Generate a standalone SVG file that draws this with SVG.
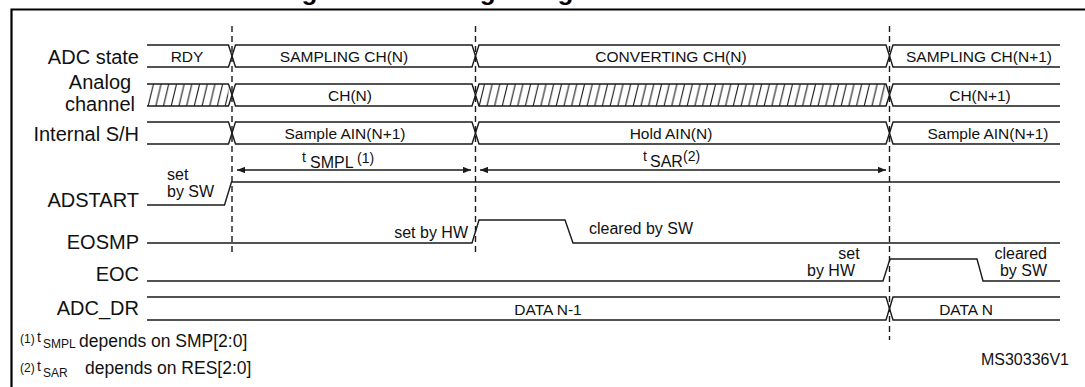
<svg xmlns="http://www.w3.org/2000/svg" width="1085" height="387" viewBox="0 0 1085 387">
<style>
.frame{fill:none;stroke:#000;stroke-width:2.2}
.sig{fill:none;stroke:#1a1a1a;stroke-width:1.4}
.dash{fill:none;stroke:#1a1a1a;stroke-width:1.4;stroke-dasharray:6 4}
.hatch{stroke:#1a1a1a;stroke-width:1.1}
text{font-family:"Liberation Sans",Arial,sans-serif;fill:#111}
.title{font-size:26px;font-weight:bold;text-anchor:middle;fill:#000}
.lbl{font-size:20px;text-anchor:end}
.lblc{font-size:20px;text-anchor:middle}
.bus{font-size:15.5px;text-anchor:middle}
.ann{font-size:16px}
.fn{font-size:17.5px}
.sm{font-size:12px}
</style>
<defs>
<pattern id="hp" patternUnits="userSpaceOnUse" x="147" y="84" width="7.7" height="22">
<line class="hatch" x1="1" y1="22.5" x2="6.5" y2="-0.5"/>
</pattern>
<marker id="ah" viewBox="0 0 10 8" refX="10" refY="4" markerWidth="8" markerHeight="6.4" markerUnits="userSpaceOnUse" orient="auto-start-reverse">
<path d="M0,0 L10,4 L0,8 z" fill="#1a1a1a"/>
</marker>
</defs>
<text class="title" x="548" y="-0.5">Figure 85. Analog to digital conversion time</text>
<path class="frame" d="M11.5,387 V9.5 H1085"/>

<g id="connectors">
<line class="dash" x1="232" y1="26" x2="232" y2="255"/>
<line class="dash" x1="475.5" y1="26" x2="475.5" y2="255"/>
<line class="dash" x1="889.5" y1="26" x2="889.5" y2="340"/>
<line class="sig" x1="237" y1="170" x2="471" y2="170" marker-start="url(#ah)" marker-end="url(#ah)"/>
<line class="sig" x1="480" y1="170" x2="886" y2="170" marker-start="url(#ah)" marker-end="url(#ah)"/>
</g>

<g id="adc-state">
<text class="lbl" x="139" y="64">ADC state</text>
<path class="sig" d="M147,45 H228.5 L235.5,67 H472 L479,45 H886 L893,67 H1060"/>
<path class="sig" d="M147,67 H228.5 L235.5,45 H472 L479,67 H886 L893,45 H1060"/>
<text class="bus" x="187" y="62">RDY</text>
<text class="bus" x="344" y="62">SAMPLING CH(N)</text>
<text class="bus" x="671" y="62">CONVERTING CH(N)</text>
<text class="bus" x="979" y="62">SAMPLING CH(N+1)</text>
</g>

<g id="analog-channel">
<text class="lblc" x="100" y="89">Analog</text>
<text class="lblc" x="100" y="111">channel</text>
<rect x="147" y="84" width="81.5" height="22" fill="url(#hp)"/>
<rect x="479" y="84" width="407" height="22" fill="url(#hp)"/>
<path class="sig" d="M147,84 H228.5 L235.5,106 H472 L479,84 H886 L893,106 H1060"/>
<path class="sig" d="M147,106 H228.5 L235.5,84 H472 L479,106 H886 L893,84 H1060"/>
<text class="bus" x="350" y="101">CH(N)</text>
<text class="bus" x="980" y="101">CH(N+1)</text>
</g>

<g id="internal-sh">
<text class="lbl" x="139" y="141">Internal S/H</text>
<path class="sig" d="M147,122 H228.5 L235.5,144 H472 L479,122 H886 L893,144 H1060"/>
<path class="sig" d="M147,144 H228.5 L235.5,122 H472 L479,144 H886 L893,122 H1060"/>
<text class="bus" x="345" y="139">Sample AIN(N+1)</text>
<text class="bus" x="671" y="139">Hold AIN(N)</text>
<text class="bus" x="988" y="139">Sample AIN(N+1)</text>
</g>

<g id="tsmpl">
<text x="302" y="162" style="font-size:14px">t</text>
<text x="310" y="168" style="font-size:16px">SMPL</text>
<text x="357" y="163" style="font-size:14px">(1)</text>
</g>
<g id="tsar">
<text x="643" y="161" style="font-size:14px">t</text>
<text x="650" y="167" style="font-size:16px">SAR</text>
<text x="683" y="161" style="font-size:14px">(2)</text>
</g>

<g id="adstart">
<text class="lbl" x="139" y="207">ADSTART</text>
<path class="sig" d="M147,205 H224.5 L231.5,182 H1060"/>
<text class="ann" x="167" y="180">set</text>
<text class="ann" x="167" y="197">by SW</text>
</g>

<g id="eosmp">
<text class="lbl" x="139" y="249">EOSMP</text>
<path class="sig" d="M147,243 H472 L479,220 H565 L573,243 H1060"/>
<text class="ann" x="468" y="238" text-anchor="end">set by HW</text>
<text class="ann" x="589" y="234">cleared by SW</text>
</g>

<g id="eoc">
<text class="lbl" x="139" y="281">EOC</text>
<path class="sig" d="M147,281 H883 L890,259 H977 L983,281 H1060"/>
<text class="ann" x="849" y="259" text-anchor="middle">set</text>
<text class="ann" x="855" y="276" text-anchor="end">by HW</text>
<text class="ann" x="1047" y="259" text-anchor="end">cleared</text>
<text class="ann" x="1047" y="276" text-anchor="end">by SW</text>
</g>

<g id="adc-dr">
<text class="lbl" x="139" y="315">ADC_DR</text>
<path class="sig" d="M147,297 H886 L893,320 H1060"/>
<path class="sig" d="M147,320 H886 L893,297 H1060"/>
<text class="bus" x="548" y="315">DATA N-1</text>
<text class="bus" x="966" y="315">DATA N</text>
</g>

<g id="footnotes">
<text class="sm" x="20" y="343">(1)</text>
<text x="37" y="342" style="font-size:14px">t</text>
<text x="43" y="348" style="font-size:12px">SMPL</text>
<text class="fn" x="79" y="347">depends on SMP[2:0]</text>
<text class="sm" x="20" y="372">(2)</text>
<text x="37" y="371" style="font-size:14px">t</text>
<text x="43" y="377" style="font-size:12px">SAR</text>
<text class="fn" x="85" y="374">depends on RES[2:0]</text>
<text class="ann" x="1069" y="365" text-anchor="end">MS30336V1</text>
</g>
</svg>
